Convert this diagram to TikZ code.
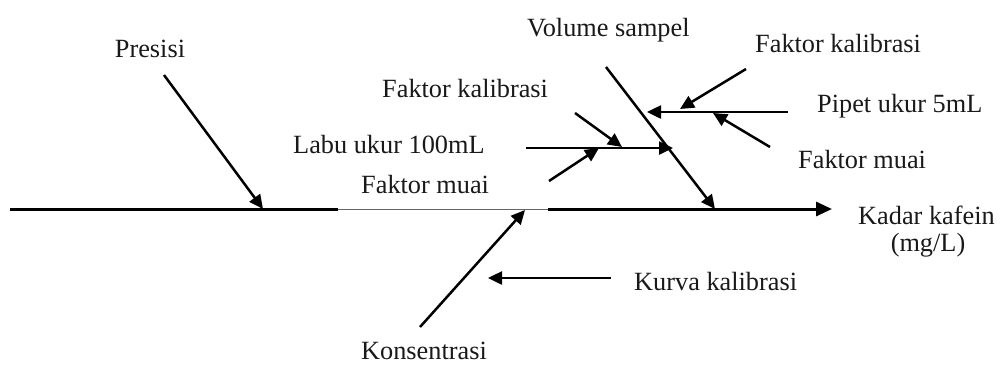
\documentclass[tikz,border=0pt]{standalone}
\usepackage{fontspec}
\setmainfont{Liberation Serif}
\usetikzlibrary{arrows.meta}
\begin{document}
\begin{tikzpicture}[x=1bp,y=-1bp,
  lbl/.style={font=\fontsize{26.3bp}{30bp}\selectfont, inner sep=0pt, text=black!90},
  bone/.style={line width=3bp},
  thinbone/.style={line width=1bp, draw=black!60},
  arr/.style={line width=2.5bp, -{Triangle[length=14bp,width=13bp]}}]
\useasboundingbox (0,0) rectangle (1004,367);
% coordinates
\coordinate (s0) at (10,209);
\coordinate (s1) at (338,209);
\coordinate (s2) at (548,209);
\coordinate (s3) at (832,209);
\coordinate (p0) at (164,75);   \coordinate (p1) at (263,209);
\coordinate (v0) at (606,67);   \coordinate (v1) at (715,209);
\coordinate (pp0) at (788,112); \coordinate (pp1) at (647,112);
\coordinate (fk0) at (746,69);  \coordinate (fk1) at (680,109);
\coordinate (fm0) at (770,147); \coordinate (fm1) at (713,113);
\coordinate (l0) at (526,148);  \coordinate (l1) at (673,148);
\coordinate (a0) at (575,113);  \coordinate (a1) at (622,147);
\coordinate (b0) at (549,181);  \coordinate (b1) at (599,148);
\coordinate (k0) at (420,327);  \coordinate (k1) at (525,210);
\coordinate (c0) at (611,278);  \coordinate (c1) at (488,278);
% labels
\node[lbl, anchor=base] (presisi) at (150,57) {Presisi};
\node[lbl, anchor=base west] (volume) at (527,36) {Volume sampel};
\node[lbl, anchor=base west] (fkl) at (382,97) {Faktor kalibrasi};
\node[lbl, anchor=base west] (labu) at (293,153) {Labu ukur 100mL};
\node[lbl, anchor=base west] (fml) at (361,193) {Faktor muai};
\node[lbl, anchor=base west] (fkr) at (755,52) {Faktor kalibrasi};
\node[lbl, anchor=base west] (pipet) at (817,112) {Pipet ukur 5mL};
\node[lbl, anchor=base west] (fmr) at (798,168) {Faktor muai};
\node[lbl, anchor=base west] (kadar) at (858,224) {Kadar kafein};
\node[lbl, anchor=base] (mgl) at (928,251) {(mg/L)};
\node[lbl, anchor=base west] (kurva) at (634,290) {Kurva kalibrasi};
\node[lbl, anchor=base west] (kons) at (361,359) {Konsentrasi};
% spine
\draw[bone] (s0) -- (s1);
\draw[thinbone] (s1) -- (s2);
\draw[bone, -{Triangle[length=16bp,width=14bp]}] (s2) -- (s3);
% branches
\draw[arr] (p0) -- (p1);
\draw[arr] (v0) -- (v1);
\draw[arr] (pp0) -- (pp1);
\draw[arr] (fk0) -- (fk1);
\draw[arr] (fm0) -- (fm1);
\draw[arr] (l0) -- (l1);
\draw[arr] (a0) -- (a1);
\draw[arr] (b0) -- (b1);
\draw[arr] (k0) -- (k1);
\draw[arr] (c0) -- (c1);
\end{tikzpicture}
\end{document}
